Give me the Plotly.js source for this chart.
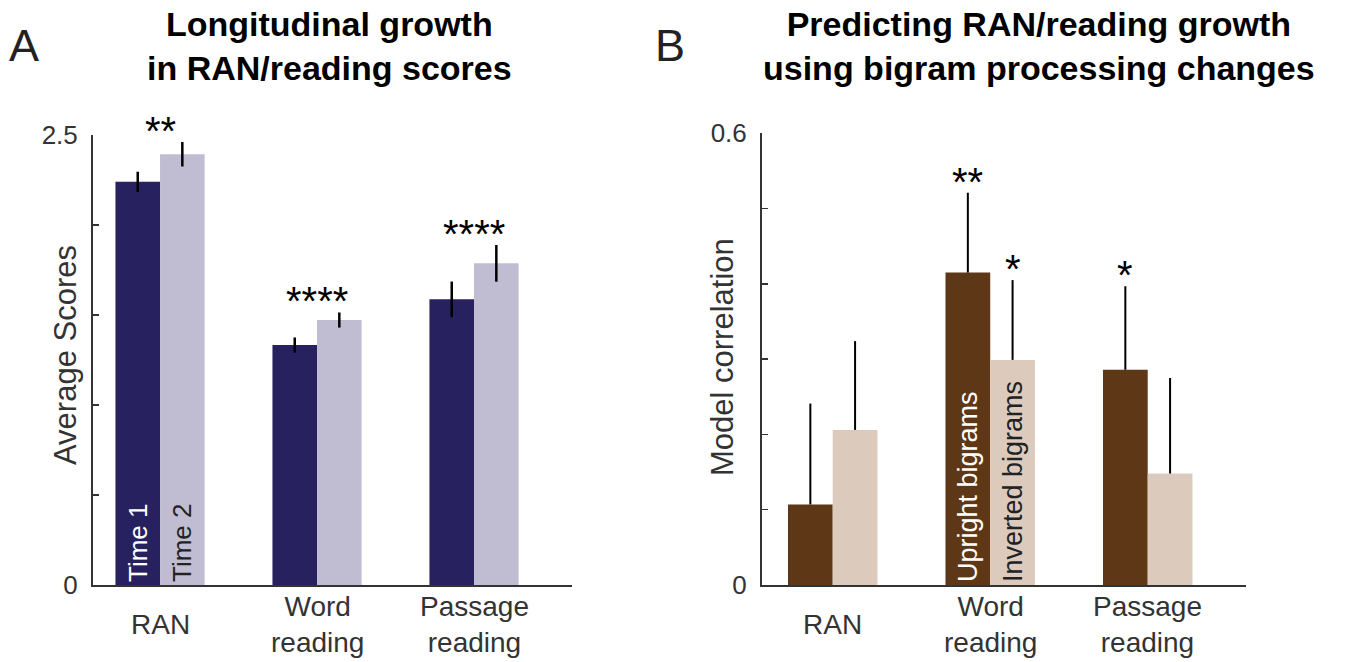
<!DOCTYPE html>
<html>
<head>
<meta charset="utf-8">
<script src="https://cdn.plot.ly/plotly-3.0.1.min.js"></script>
<style>html,body{margin:0;padding:0;background:#fff;}#chart{width:1348px;height:662px;}</style>
</head>
<body>
<div id="chart"></div>
<script>
// ---- Data ----
const categories = ['RAN', 'Word<br>reading', 'Passage<br>reading'];

// Panel A: average scores
const time1 = [2.240, 1.333, 1.587];
const time1Err = [0.056, 0.042, 0.099];
const time2 = [2.393, 1.472, 1.787];
const time2Err = [0.068, 0.042, 0.102];
const sigA = ['**', '****', '****'];
const barTextA1 = ['Time 1', '', ''];
const barTextA2 = ['Time 2', '', ''];
const yTicksA = [0, 0.5, 1, 1.5, 2, 2.5];
const yTickTextA = ['0', '', '', '', '', '2.5'];

// Panel B: model correlation
const upright = [0.107, 0.415, 0.286];
const uprightErr = [0.134, 0.106, 0.111];
const inverted = [0.206, 0.299, 0.148];
const invertedErr = [0.118, 0.106, 0.127];
const sigUpright = ['', '**', '*'];
const sigInverted = ['', '*', ''];
const barTextB1 = ['', 'Upright bigrams', ''];
const barTextB2 = ['', 'Inverted bigrams', ''];
const yTicksB = [0, 0.1, 0.2, 0.3, 0.4, 0.5, 0.6];
const yTickTextB = ['0', '', '', '', '', '', '0.6'];

// ---- Styling ----
const FONT = 'Liberation Sans, Arial, sans-serif';
const C_T1 = '#27215f', C_T2 = '#c0bdd3';
const C_UP = '#5e3716', C_INV = '#dccbbd';
const BW = 0.284;
const xs = categories.map((c, i) => i);

function barTrace(y, err, errMinus, color, text, textColor, textSize, offset, xa, ya, errW) {
  const e = {type: 'data', array: err, color: '#000', thickness: errW, width: 0, visible: true};
  if (errMinus) { e.symmetric = false; e.arrayminus = errMinus; } else { e.symmetric = true; }
  return {
    type: 'bar', x: xs, y: y, width: BW, offset: offset,
    marker: {color: color, line: {width: 0}},
    error_y: e,
    text: text, textposition: 'inside', insidetextanchor: 'start', textangle: -90,
    textfont: {family: FONT, size: textSize, color: textColor},
    insidetextfont: {family: FONT, size: textSize, color: textColor},
    cliponaxis: false, constraintext: 'none',
    xaxis: xa, yaxis: ya, hoverinfo: 'skip', showlegend: false
  };
}

const traces = [
  barTrace(time1, time1Err, null, C_T1, barTextA1, '#ffffff', 26, -BW, 'x', 'y', 2.5),
  barTrace(time2, time2Err, null, C_T2, barTextA2, '#222222', 26, 0, 'x', 'y', 2.5),
  barTrace(upright, uprightErr, [0, 0, 0], C_UP, barTextB1, '#ffffff', 27, -BW, 'x2', 'y2', 2),
  barTrace(inverted, invertedErr, [0, 0, 0], C_INV, barTextB2, '#222222', 27, 0, 'x2', 'y2', 2)
];

const annotations = [];
const starFont = {family: FONT, size: 40, color: '#000'};
const STAR_SHIFT = -13;
// Panel A significance: centred over each group
categories.forEach((c, i) => {
  const top = Math.max(time1[i] + time1Err[i], time2[i] + time2Err[i]);
  annotations.push({xref: 'x', yref: 'y', x: i, y: top, text: sigA[i], showarrow: false,
    xanchor: 'center', yanchor: 'bottom', yshift: STAR_SHIFT, font: starFont});
});
// Panel B significance: over each bar
categories.forEach((c, i) => {
  if (sigUpright[i]) annotations.push({xref: 'x2', yref: 'y2', x: i - BW / 2, y: upright[i] + uprightErr[i],
    text: sigUpright[i], showarrow: false, xanchor: 'center', yanchor: 'bottom', yshift: STAR_SHIFT, font: starFont});
  if (sigInverted[i]) annotations.push({xref: 'x2', yref: 'y2', x: i + BW / 2, y: inverted[i] + invertedErr[i],
    text: sigInverted[i], showarrow: false, xanchor: 'center', yanchor: 'bottom', yshift: STAR_SHIFT, font: starFont});
});
// Category labels (centred vertically like the reference)
['x', 'x2'].forEach(xa => {
  categories.forEach((c, i) => {
    annotations.push({xref: xa, yref: 'paper', x: i, y: 0.0574, text: c, showarrow: false,
      xanchor: 'center', yanchor: 'middle', font: {family: FONT, size: 28, color: '#333'}});
  });
});
// Axis titles
annotations.push({xref: 'paper', yref: 'paper', x: 0.0482, y: 0.4637, text: 'Average Scores', textangle: -90,
  showarrow: false, xanchor: 'center', yanchor: 'middle', font: {family: FONT, size: 31, color: '#333'}});
annotations.push({xref: 'paper', yref: 'paper', x: 0.5356, y: 0.4607, text: 'Model correlation', textangle: -90,
  showarrow: false, xanchor: 'center', yanchor: 'middle', font: {family: FONT, size: 31, color: '#333'}});
// Panel titles
annotations.push({xref: 'paper', yref: 'paper', x: 0.2448, y: 0.931, text: '<b>Longitudinal growth<br>in RAN/reading scores</b>',
  showarrow: false, xanchor: 'center', yanchor: 'middle', font: {family: FONT, size: 34, color: '#000'}});
annotations.push({xref: 'paper', yref: 'paper', x: 0.7708, y: 0.931, text: '<b>Predicting RAN/reading growth<br>using bigram processing changes</b>',
  showarrow: false, xanchor: 'center', yanchor: 'middle', font: {family: FONT, size: 34, color: '#000'}});
// Panel letters
annotations.push({xref: 'paper', yref: 'paper', x: 0.0178, y: 0.932, text: 'A', showarrow: false,
  xanchor: 'center', yanchor: 'middle', font: {family: FONT, size: 45, color: '#222'}});
annotations.push({xref: 'paper', yref: 'paper', x: 0.497, y: 0.932, text: 'B', showarrow: false,
  xanchor: 'center', yanchor: 'middle', font: {family: FONT, size: 45, color: '#222'}});

const xBase = {showline: true, linecolor: '#333', linewidth: 2, showgrid: false, zeroline: false,
  showticklabels: false, ticks: '', fixedrange: true};
const yBase = {showline: true, linecolor: '#333', linewidth: 2, showgrid: false, zeroline: false,
  ticks: 'inside', ticklen: 6, tickwidth: 1.5, tickcolor: '#333', ticklabelstandoff: 8,
  tickfont: {family: FONT, size: 26, color: '#333'}, tickmode: 'array', fixedrange: true};

const layout = {
  width: 1348, height: 662,
  margin: {l: 0, r: 0, t: 0, b: 0},
  paper_bgcolor: '#fff', plot_bgcolor: 'rgba(0,0,0,0)',
  showlegend: false,
  barmode: 'overlay',
  font: {family: FONT, color: '#333'},
  xaxis: Object.assign({}, xBase, {domain: [0.06899, 0.42433], range: [-0.427, 2.624], anchor: 'y'}),
  yaxis: Object.assign({}, yBase, {domain: [0.11631, 0.79607], range: [0, 2.5], tickvals: yTicksA, ticktext: yTickTextA, anchor: 'x'}),
  xaxis2: Object.assign({}, xBase, {domain: [0.56528, 0.92433], range: [-0.449, 2.624], anchor: 'y2'}),
  yaxis2: Object.assign({}, yBase, {domain: [0.11631, 0.79864], range: [0, 0.6], tickvals: yTicksB, ticktext: yTickTextB, anchor: 'x2'}),
  annotations: annotations
};

Plotly.newPlot('chart', traces, layout, {displayModeBar: false, staticPlot: true});
</script>
</body>
</html>
